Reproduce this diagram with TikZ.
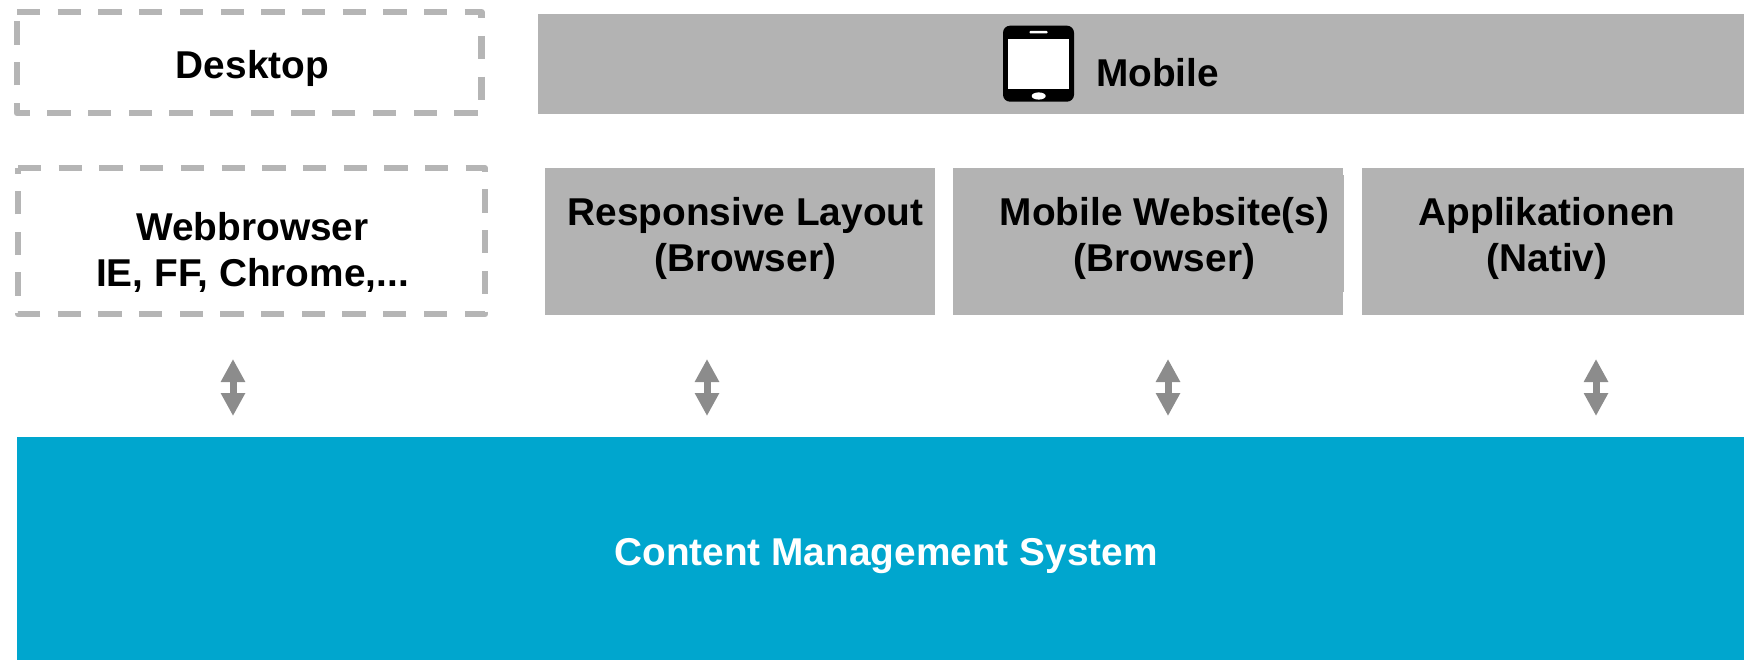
\documentclass[tikz,border=0pt]{standalone}
\usepackage{fontspec}
\setmainfont{Liberation Sans}
\usetikzlibrary{arrows.meta}
\definecolor{barGray}{RGB}{179,179,179}
\definecolor{dashGray}{RGB}{181,181,181}
\definecolor{arrowGray}{RGB}{140,140,140}
\definecolor{cmsBlue}{RGB}{0,166,206}
\tikzset{
  x=1pt,y=-1pt,
  area/.style={inner sep=0pt,outer sep=0pt,anchor=north west},
  barbox/.style={area,fill=barGray},
  dashbox/.style={draw=dashGray,line width=6.2pt,line join=round,dash pattern=on 23.3pt off 17.4pt},
  lbl/.style={inner sep=0pt,outer sep=0pt,anchor=base,align=center,font=\fontsize{38.8}{46}\selectfont\bfseries,text=black},
  updown/.style={draw=arrowGray,line width=7pt,{Triangle[length=23pt,width=23pt]}-{Triangle[length=23pt,width=23pt]}},
}
\begin{document}
\begin{tikzpicture}
\useasboundingbox (0,0) rectangle (1744,660);
% dashed frames
\node[area,minimum width=464.5pt,minimum height=101.3pt] (desk) at (17,12) {};
\draw[dashbox] (desk.north west) -- (desk.north east) -- (desk.south east) -- (desk.south west) -- cycle;
\node[area,minimum width=467pt,minimum height=146.3pt] (web) at (18,168) {};
\draw[dashbox] (web.north west) -- (web.north east) -- (web.south east) -- (web.south west) -- cycle;
% grey areas
\node[barbox,minimum width=1206pt,minimum height=100pt] (mob) at (538,14) {};
\node[barbox,minimum width=390pt,minimum height=147pt] (resp) at (545,168) {};
\node[barbox,minimum width=390pt,minimum height=147pt] (site) at (953,168) {};
\fill[barGray] (1343,175) rectangle (1344,292);
\node[barbox,minimum width=382pt,minimum height=147pt] (app) at (1362,168) {};
\node[area,fill=cmsBlue,minimum width=1727pt,minimum height=223pt] (cms) at (17,437) {};
% tablet icon
\fill[black,rounded corners=7pt] (1003,25.7) rectangle (1074,101.7);
\fill[white] (1008,38.7) rectangle (1069,89.3);
\fill[white,rounded corners=0.8pt] (1029.5,31) rectangle (1047.5,33.5);
\fill[white] (1038.7,96) ellipse [x radius=7pt,y radius=3.6pt];
% labels
\node[lbl] (tdesk) at (252.5,79) {Desktop};
\node[lbl] (tmob) at (1157.5,87) {Mobile};
\node[lbl] (tweb) at (252.5,286.5) {Webbrowser\\IE, FF, Chrome,...};
\node[lbl] (tresp) at (745.5,272) {Responsive Layout\\(Browser)};
\node[lbl] (tsite) at (1164.5,272) {Mobile Website(s)\\(Browser)};
\node[lbl] (tapp) at (1547,272) {Applikationen\\(Nativ)};
\node[lbl,text=white] (tcms) at (886,565) {Content Management System};
% arrows
\coordinate (a1t) at (233,359); \coordinate (a1b) at (233,416);
\coordinate (a2t) at (707,359); \coordinate (a2b) at (707,416);
\coordinate (a3t) at (1168,359); \coordinate (a3b) at (1168,416);
\coordinate (a4t) at (1596,359); \coordinate (a4b) at (1596,416);
\draw[updown] (a1t) -- (a1b);
\draw[updown] (a2t) -- (a2b);
\draw[updown] (a3t) -- (a3b);
\draw[updown] (a4t) -- (a4b);
\end{tikzpicture}
\end{document}
